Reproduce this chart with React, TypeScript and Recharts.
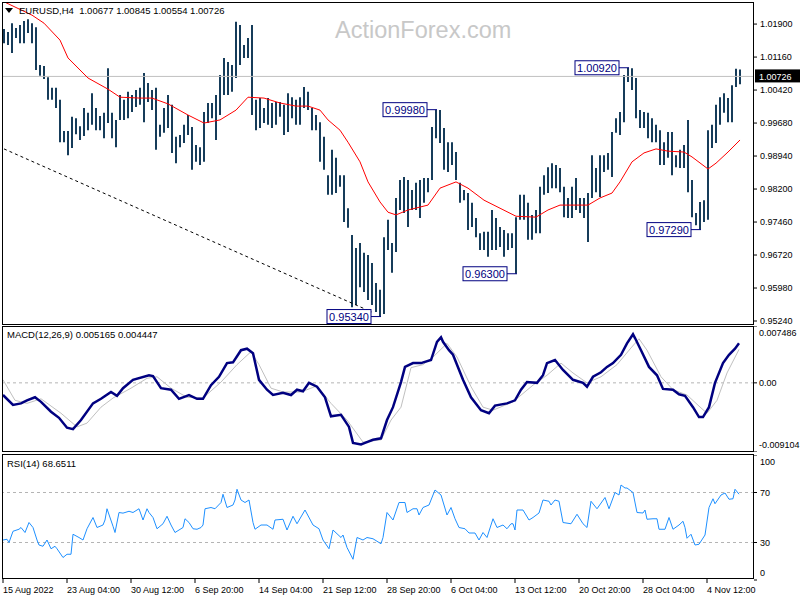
import {
  ComposedChart,
  LineChart,
  Bar,
  Line,
  XAxis,
  YAxis,
  ReferenceLine,
  ReferenceDot,
} from 'recharts';

/**
 * EURUSD H4 chart: price bars with a red moving average, MACD(12,26,9) and RSI(14)
 * in the MT4 look. Price bars are kept as high/low pairs, two H4 bars per entry.
 * The indicator series are [H4 bar index, value] pairs.
 */

const FONT = '"Liberation Sans", Arial, sans-serif';
const NAVY = '#000080';
const BAR_COLOR = '#163c5a';

const PRICE_DOMAIN = [0.95173, 1.02395];
const PRICE_TICKS = [1.019, 1.0116, 1.0042, 0.9968, 0.9894, 0.982, 0.9746, 0.9672, 0.9598, 0.9524];
const LAST_PRICE = 1.00726;

const BAR_HIGH = [
  1.0179, 1.0172, 1.0192, 1.0181, 1.0188, 1.0197, 1.0201, 1.0192, 1.0183, 1.0098,
  1.0096, 1.0071, 1.0047, 1.0047, 1.002, 0.995, 0.995, 0.9982, 0.9979, 0.9961,
  1.0002, 0.9991, 1.0035, 1.0002, 0.9984, 0.9991, 1.0091, 0.9991, 0.9975, 1.0031,
  1.002, 1.0038, 1.0031, 1.0042, 1.0047, 1.008, 1.0058, 1.0042, 1.0047, 0.9964,
  1.0002, 1.0031, 1.0009, 0.9937, 0.9941, 0.9964, 0.9986, 0.9959, 0.9919, 0.9914,
  0.9993, 1.0013, 1.0013, 1.0031, 1.0076, 1.0114, 1.0105, 1.0098, 1.0195, 1.0188,
  1.0143, 1.0159, 1.0188, 1.002, 1.0024, 1.0002, 1.0024, 1.0013, 1.0015, 1.0015,
  1.0009, 1.0035, 1.0026, 1.002, 1.0026, 1.0049, 1.0038, 1.0002, 0.9986, 0.997,
  0.9937, 0.9851, 0.9908, 0.989, 0.9851, 0.9851, 0.9777, 0.9717, 0.9688, 0.9699,
  0.9677, 0.9672, 0.9654, 0.9609, 0.9594, 0.9712, 0.9751, 0.9699, 0.98, 0.984,
  0.9847, 0.984, 0.9818, 0.9834, 0.984, 0.9845, 0.9845, 0.9959, 0.9998, 0.9997,
  0.9957, 0.9925, 0.9925, 0.9903, 0.9834, 0.9818, 0.9811, 0.9789, 0.9755, 0.9721,
  0.9724, 0.9724, 0.9773, 0.9755, 0.9735, 0.9728, 0.9721, 0.9721, 0.9757, 0.9807,
  0.9807, 0.9789, 0.9762, 0.9773, 0.9825, 0.9851, 0.9869, 0.9878, 0.9874, 0.9867,
  0.9825, 0.98, 0.9825, 0.9845, 0.98, 0.98, 0.9811, 0.9896, 0.9867, 0.9896,
  0.9896, 0.9901, 0.9948, 0.9979, 0.9993, 1.0076, 1.0092, 1.0091, 1.0069, 0.9997,
  0.9993, 0.9991, 0.9979, 0.9964, 0.9952, 0.9925, 0.9948, 0.9948, 0.9896, 0.9908,
  0.9919, 0.9975, 0.984, 0.9766, 0.9791, 0.9795, 0.9952, 0.9964, 1.0009, 1.0026,
  1.0035, 1.0024, 1.0053, 1.009, 1.0088,
];

const BAR_LOW = [
  1.0147, 1.0143, 1.0125, 1.0159, 1.0147, 1.0147, 1.017, 1.0147, 1.0087, 1.0074,
  1.0067, 1.002, 1.002, 1.0002, 0.9925, 0.9925, 0.9896, 0.9912, 0.9943, 0.993,
  0.9939, 0.9952, 0.9964, 0.9952, 0.9952, 0.9934, 0.9968, 0.9934, 0.9914, 0.9975,
  0.9975, 0.9979, 0.9993, 1.0004, 1.0009, 0.997, 1.0015, 0.9997, 0.9908, 0.9937,
  0.9946, 0.9957, 0.9901, 0.9878, 0.9914, 0.9923, 0.9941, 0.9863, 0.9881, 0.9874,
  0.9881, 0.9968, 0.9979, 0.993, 0.9986, 1.0031, 1.0031, 1.0038, 1.0069, 1.0098,
  1.0114, 1.0114, 0.9986, 0.9952, 0.9957, 0.9968, 0.9964, 0.9957, 0.9964, 0.9982,
  0.9941, 0.9948, 0.9979, 0.9964, 0.9964, 1.0002, 0.9997, 0.9952, 0.9952, 0.9881,
  0.9863, 0.9807, 0.9807, 0.9811, 0.9825, 0.9746, 0.9733, 0.9555, 0.956, 0.96,
  0.9589, 0.9571, 0.956, 0.9544, 0.9534, 0.954, 0.9683, 0.9632, 0.9679, 0.9773,
  0.9766, 0.9735, 0.9773, 0.9773, 0.9755, 0.9789, 0.9813, 0.984, 0.9934, 0.9923,
  0.9863, 0.9858, 0.9874, 0.984, 0.9789, 0.9795, 0.9728, 0.9735, 0.9712, 0.9683,
  0.9683, 0.9668, 0.9683, 0.9683, 0.969, 0.9668, 0.9683, 0.9688, 0.963, 0.9751,
  0.9751, 0.9706, 0.9706, 0.9721, 0.9721, 0.9807, 0.9811, 0.9822, 0.9822, 0.9813,
  0.9757, 0.9755, 0.9755, 0.9773, 0.9766, 0.9755, 0.9701, 0.98, 0.9813, 0.9802,
  0.9858, 0.9863, 0.9847, 0.9946, 0.9941, 0.997, 1.006, 1.0042, 0.9979, 0.9957,
  0.9957, 0.9934, 0.9925, 0.9925, 0.9874, 0.9874, 0.989, 0.9851, 0.9869, 0.9867,
  0.9867, 0.9813, 0.9757, 0.9739, 0.9729, 0.9746, 0.9751, 0.9912, 0.9923, 0.9964,
  0.9991, 0.997, 0.997, 1.0049, 1.0055,
];

// moving average, [bar pair index, value]
const MA_POINTS: [number, number][] = [
  [0, 1.024], [7, 1.021], [10, 1.0192], [14, 1.0154], [16, 1.0114], [21, 1.0069], [26, 1.0044],
  [29, 1.0026], [34, 1.0024], [37, 1.0024], [41, 1.0011], [46, 0.9986], [50, 0.9968], [54, 0.9975],
  [58, 0.9997], [61, 1.0026], [65, 1.0024], [69, 1.0013], [73, 1.0006], [76, 1.0006], [79, 0.9997],
  [81, 0.9975], [84, 0.9952], [86, 0.9925], [89, 0.9881], [91, 0.9836], [94, 0.9791], [96, 0.9768],
  [98, 0.9762], [101, 0.9773], [106, 0.9784], [109, 0.9822], [113, 0.9836], [116, 0.9822],
  [120, 0.9795], [124, 0.9777], [128, 0.9759], [133, 0.9757], [136, 0.9773], [139, 0.9784],
  [146, 0.9784], [149, 0.98], [152, 0.9811], [154, 0.9836], [157, 0.9881], [160, 0.9901],
  [163, 0.991], [166, 0.9905], [170, 0.9903], [172, 0.9892], [176, 0.9865], [178, 0.9878],
  [181, 0.9903], [184, 0.993],
];

// marked swing highs / lows, [bar pair index, price]
const SWINGS: [number, number][] = [
  [108, 0.9998], [156, 1.0092], [128, 0.963], [94, 0.9534], [174, 0.9729],
];

const TREND_FROM: [number, number] = [0, 0.991];
const TREND_TO: [number, number] = [92, 0.9544];

const MACD_RANGE = [-0.009104, 0.007486];
const MACD_TICKS = [0.007486, 0, -0.009104];

const MACD_LINE: [number, number][] = [
  [0, -0.0016], [5, -0.0029], [9, -0.0027], [12, -0.0023], [16, -0.0019], [19, -0.0025], [24, -0.0038],
  [28, -0.0046], [32, -0.0059], [35, -0.0061], [39, -0.0049], [45, -0.0027], [49, -0.0021], [54, -0.0012],
  [57, -0.0017], [60, -0.0007], [65, 0.0004], [73, 0.001], [75, 0.0009], [79, -0.0007], [84, -0.0009],
  [88, -0.0021], [93, -0.0016], [97, -0.0021], [100, -0.0021], [104, -0.0003], [108, 0.0008], [112, 0.0026],
  [115, 0.0027], [119, 0.0043], [122, 0.0045], [125, 0.0039], [128, 0.0004], [132, -0.0009], [135, -0.0016],
  [140, -0.0013], [144, -0.0016], [147, -0.0009], [150, -0.0011], [153, 0.0], [157, -0.0005], [161, -0.0019],
  [164, -0.0044], [169, -0.0042], [173, -0.0058], [175, -0.0079], [179, -0.0081], [181, -0.0079],
  [185, -0.0075], [189, -0.0073], [192, -0.0049], [195, -0.0032], [199, 0.0001], [201, 0.0021],
  [205, 0.0026], [209, 0.0026], [214, 0.003], [217, 0.0054], [219, 0.006], [220, 0.0054], [223, 0.0043],
  [225, 0.0037], [230, 0.0004], [234, -0.0019], [239, -0.0036], [243, -0.004], [246, -0.003], [252, -0.0027],
  [256, -0.0023], [259, -0.0009], [262, 0.0001], [267, 0.0], [270, 0.001], [272, 0.0026], [276, 0.003],
  [280, 0.0017], [285, 0.0004], [290, 0.0], [292, -0.0005], [295, 0.0008], [299, 0.0014], [302, 0.0021],
  [305, 0.0026], [309, 0.0037], [312, 0.0052], [315, 0.0064], [316, 0.0059], [319, 0.0043], [323, 0.0021],
  [327, 0.001], [330, -0.0008], [335, -0.0009], [338, -0.0015], [341, -0.0017], [345, -0.0032],
  [348, -0.0045], [350, -0.0045], [353, -0.0032], [356, 0.0], [360, 0.0026], [363, 0.0037], [366, 0.0045],
  [368, 0.0052],
];

const MACD_SIGNAL: [number, number][] = [
  [0, 0.0004], [6, -0.0023], [12, -0.0027], [19, -0.0021], [29, -0.004], [37, -0.0058], [42, -0.0053],
  [49, -0.0032], [55, -0.002], [64, -0.0007], [72, 0.0006], [77, 0.0008], [84, -0.0007], [92, -0.0019],
  [100, -0.002], [109, 0.0001], [117, 0.0024], [124, 0.0041], [128, 0.0024], [134, -0.0007], [140, -0.0012],
  [149, -0.0012], [157, -0.0004], [164, -0.0027], [172, -0.0049], [180, -0.0078], [189, -0.0075],
  [194, -0.0049], [199, -0.0032], [204, 0.002], [210, 0.0024], [215, 0.0034], [222, 0.0052], [227, 0.0034],
  [234, -0.0005], [240, -0.0032], [245, -0.0036], [255, -0.0025], [265, -0.0003], [272, 0.001],
  [279, 0.0026], [285, 0.0013], [292, 0.0], [299, 0.0008], [307, 0.0024], [314, 0.0046], [318, 0.0058],
  [322, 0.0043], [329, 0.0008], [335, -0.0009], [342, -0.0016], [349, -0.0033], [352, -0.004],
  [357, -0.0023], [362, 0.0013], [368, 0.0044],
];

const RSI_TICKS = [100, 70, 30, 0];
const RSI_LEVELS = [70, 30];

const RSI_LINE: [number, number][] = [
  [0, 32], [2, 32.6], [3, 30], [5, 39], [8, 40.6], [9, 42], [11, 38], [13, 46], [15, 42], [17, 32],
  [18, 28], [20, 27], [22, 32], [24, 25], [26, 27], [27, 25], [30, 18], [32, 20.6], [34, 20.6], [35, 36.6],
  [38, 34], [40, 32], [42, 41], [45, 50], [47, 42], [50, 44], [51, 48], [52, 57], [55, 43], [56, 38],
  [58, 54], [60, 53.5], [63, 55], [65, 54], [68, 57], [70, 48], [72, 57], [73, 54], [75, 50], [77, 41],
  [80, 45], [82, 51], [84, 44], [86, 38], [90, 42], [91, 49], [93, 46], [95, 41], [97, 40.6], [99, 42],
  [100, 44], [101, 57], [104, 58], [106, 57], [109, 62], [110, 68.6], [112, 58], [115, 60], [116, 64],
  [117, 72.6], [119, 64], [121, 62], [123, 64], [125, 46], [126, 40.6], [129, 44], [132, 44], [135, 40.6],
  [136, 48], [140, 48.6], [142, 40], [145, 51], [147, 45], [151, 56], [155, 44], [158, 41], [160, 32],
  [163, 25], [165, 40], [169, 34], [170, 36], [172, 26], [175, 16.6], [177, 34], [180, 32], [182, 34],
  [185, 33], [189, 29], [190, 34], [192, 54], [195, 48], [198, 62], [201, 62], [202, 54], [205, 57],
  [207, 57], [208, 52], [210, 58], [213, 60], [216, 72], [219, 68], [222, 52], [224, 58], [226, 49],
  [228, 42], [231, 41], [233, 37.6], [236, 37.6], [238, 32], [240, 38], [242, 34], [245, 49], [247, 42],
  [250, 44], [252, 41], [254, 45], [255, 45], [256, 40], [257, 56], [260, 56], [263, 48], [265, 50],
  [268, 53.6], [270, 64], [273, 63], [274, 60], [276, 64], [278, 63], [280, 46], [284, 45], [287, 52.6],
  [290, 45], [292, 42], [294, 63], [297, 57], [301, 66], [303, 57], [306, 70], [308, 68], [309, 76],
  [311, 73.6], [312, 73.6], [315, 70], [317, 54], [320, 53.6], [321, 56], [322, 48.6], [325, 49],
  [327, 49], [328, 40.6], [331, 40.6], [333, 50], [335, 40.6], [338, 44], [340, 47], [341, 42],
  [342, 33.4], [344, 36.6], [346, 28], [348, 28.6], [351, 36], [353, 58], [355, 65], [356, 61],
  [359, 68], [361, 69.6], [363, 64.6], [365, 65], [366, 72.6], [368, 68.65],
];

const TIME_TICKS = [0, 32, 64, 96, 128, 160, 192, 224, 256, 288, 320, 352];
const TIME_LABELS = [
  '15 Aug 2022', '23 Aug 04:00', '30 Aug 12:00', '6 Sep 20:00', '14 Sep 04:00', '21 Sep 12:00',
  '28 Sep 20:00', '6 Oct 04:00', '13 Oct 12:00', '20 Oct 20:00', '28 Oct 04:00', '4 Nov 12:00',
];

const BAR_DOMAIN = [-0.5, 375.5];

const maByBar = new Map(MA_POINTS);
const priceRows = BAR_HIGH.map((high, i) => ({
  i,
  hl: [BAR_LOW[i], high],
  ma: maByBar.has(i) ? maByBar.get(i) : null,
}));

function mergeRows(series: Record<string, [number, number][]>) {
  const rows = new Map<number, any>();
  for (const [key, pts] of Object.entries(series)) {
    for (const [b, v] of pts) {
      const row = rows.get(b) ?? { b };
      row[key] = v;
      rows.set(b, row);
    }
  }
  return [...rows.values()].sort((a, b) => a.b - b.b);
}

const macdRows = mergeRows({ macd: MACD_LINE, signal: MACD_SIGNAL });
const rsiRows = mergeRows({ rsi: RSI_LINE });

const axisText = { fontSize: 9, fill: '#000', fontFamily: FONT };

function SwingTag(props: any) {
  const { cx, cy, text } = props;
  const w = 44;
  const h = 14;
  const right = cx - 9;
  return (
    <g>
      <line x1={right} x2={cx + 1} y1={cy} y2={cy} stroke={NAVY} />
      <rect x={right - w} y={cy - h / 2} width={w} height={h} fill="#fff" stroke={NAVY} />
      <text x={right - w / 2} y={cy} dy="0.36em" textAnchor="middle" fontSize={11} fill={NAVY} fontFamily={FONT}>
        {text}
      </text>
    </g>
  );
}

function PriceTag(props: any) {
  const { viewBox } = props;
  const x = viewBox.x + viewBox.width;
  return (
    <g>
      <rect x={x + 1} y={viewBox.y - 7} width={45} height={13} fill="#000" />
      <text x={x + 5} y={viewBox.y} dy="0.36em" fontSize={9} fill="#fff" fontFamily={FONT}>
        {LAST_PRICE.toFixed(5)}
      </text>
    </g>
  );
}

function EdgeTick(props: any) {
  const { x, y, payload, top, bottom, format } = props;
  const v = payload.value;
  const dy = v === top ? 7 : v === bottom ? -7 : 0;
  return (
    <text x={x} y={y + dy} dy="0.36em" textAnchor="start" {...axisText}>
      {format(v)}
    </text>
  );
}

function TimeTick(props: any) {
  const { x, y, payload } = props;
  const label = TIME_LABELS[TIME_TICKS.indexOf(payload.value)];
  return (
    <g>
      <line x1={x} x2={x} y1={y - 2} y2={y + 3} stroke="#000" />
      <text x={x} y={y + 13} textAnchor="start" {...axisText}>
        {label}
      </text>
    </g>
  );
}

function PriceChart() {
  return (
    <ComposedChart width={800} height={326} data={priceRows} margin={{ top: 2, right: 0, bottom: 2, left: 2 }}>
      <XAxis dataKey="i" hide padding={{ left: 0, right: 12 }} />
      <YAxis
        orientation="right"
        width={46}
        domain={PRICE_DOMAIN}
        ticks={PRICE_TICKS}
        interval={0}
        allowDataOverflow
        axisLine={false}
        tickSize={3}
        tickMargin={3}
        tickLine={{ stroke: '#000' }}
        tick={axisText}
        tickFormatter={(v: number) => v.toFixed(5)}
      />
      <ReferenceLine y={LAST_PRICE} stroke="#c0c0c0" label={(p: any) => <PriceTag {...p} />} />
      <ReferenceLine
        segment={[
          { x: TREND_FROM[0], y: TREND_FROM[1] },
          { x: TREND_TO[0], y: TREND_TO[1] },
        ]}
        stroke="#000"
        strokeDasharray="3 3"
      />
      <Bar dataKey="hl" barSize={2} fill={BAR_COLOR} isAnimationActive={false} />
      <Line dataKey="ma" stroke="#ff0000" strokeWidth={1} dot={false} connectNulls isAnimationActive={false} />
      {SWINGS.map(([bar, price]) => (
        <ReferenceDot
          key={bar}
          x={bar}
          y={price}
          r={1}
          shape={(p: any) => <SwingTag cx={p.cx} cy={p.cy} text={price.toFixed(5)} />}
        />
      ))}
    </ComposedChart>
  );
}

function MacdChart() {
  return (
    <LineChart width={800} height={126} data={macdRows} margin={{ top: 0, right: 0, bottom: 0, left: 2 }}>
      <XAxis dataKey="b" type="number" domain={BAR_DOMAIN} hide allowDataOverflow />
      <YAxis
        orientation="right"
        width={46}
        domain={MACD_RANGE}
        ticks={MACD_TICKS}
        interval={0}
        allowDataOverflow
        axisLine={false}
        tickSize={3}
        tickMargin={2}
        tickLine={{ stroke: '#000' }}
        tick={(p: any) => (
          <EdgeTick
            {...p}
            top={MACD_RANGE[1]}
            bottom={MACD_RANGE[0]}
            format={(v: number) => (v === 0 ? '0.00' : v.toFixed(6))}
          />
        )}
      />
      <ReferenceLine y={0} stroke="#b4b4b4" strokeDasharray="3 3" />
      <Line dataKey="signal" stroke="#c0c0c0" strokeWidth={1} dot={false} connectNulls isAnimationActive={false} />
      <Line dataKey="macd" stroke={NAVY} strokeWidth={2.5} dot={false} connectNulls isAnimationActive={false} />
    </LineChart>
  );
}

function RsiChart() {
  return (
    <LineChart width={800} height={145} data={rsiRows} margin={{ top: 0, right: 0, bottom: 0, left: 2 }}>
      <XAxis
        dataKey="b"
        type="number"
        domain={BAR_DOMAIN}
        allowDataOverflow
        ticks={TIME_TICKS}
        interval={0}
        height={20}
        axisLine={false}
        tickLine={false}
        tickSize={0}
        tickMargin={0}
        tick={(p: any) => <TimeTick {...p} />}
      />
      <YAxis
        orientation="right"
        width={46}
        domain={[0, 100]}
        ticks={RSI_TICKS}
        interval={0}
        allowDataOverflow
        axisLine={false}
        tickSize={3}
        tickMargin={3}
        tickLine={{ stroke: '#000' }}
        tick={(p: any) => <EdgeTick {...p} top={100} bottom={0} format={(v: number) => String(v)} />}
      />
      {RSI_LEVELS.map((lvl) => (
        <ReferenceLine key={lvl} y={lvl} stroke="#b4b4b4" strokeDasharray="3 3" />
      ))}
      <Line dataKey="rsi" stroke="#1e90ff" strokeWidth={1} dot={false} connectNulls isAnimationActive={false} />
    </LineChart>
  );
}

const frame = (top: number, height: number) => ({
  position: 'absolute' as const,
  left: 2,
  top,
  width: 752,
  height,
  border: '1px solid #000',
  boxSizing: 'border-box' as const,
  pointerEvents: 'none' as const,
});

const caption = (left: number, top: number) => ({
  position: 'absolute' as const,
  left,
  top,
  fontSize: 9.5,
  lineHeight: '12px',
  fontFamily: FONT,
  color: '#000',
  whiteSpace: 'nowrap' as const,
});

export default function App() {
  return (
    <div style={{ position: 'absolute', left: 0, top: 0, width: 800, height: 600, background: '#fff', overflow: 'hidden' }}>
      <div
        style={{
          position: 'absolute',
          left: 335,
          top: 16,
          fontSize: 23.5,
          lineHeight: '28px',
          fontFamily: FONT,
          color: '#c8c8c8',
        }}
      >
        ActionForex.com
      </div>
      <div style={{ position: 'absolute', left: 0, top: 0 }}>
        <PriceChart />
      </div>
      <div style={{ position: 'absolute', left: 0, top: 326 }}>
        <MacdChart />
      </div>
      <div style={{ position: 'absolute', left: 0, top: 455 }}>
        <RsiChart />
      </div>
      <div style={frame(2, 323)} />
      <div style={frame(326, 126)} />
      <div style={frame(454, 125)} />
      <svg style={{ position: 'absolute', left: 5, top: 8 }} width={9} height={6}>
        <polygon points="0,0 8,0 4,5" fill="#000" />
      </svg>
      <div style={caption(19, 5)}>EURUSD,H4&nbsp;&nbsp;1.00677 1.00845 1.00554 1.00726</div>
      <div style={caption(7, 329)}>MACD(12,26,9) 0.005165 0.004447</div>
      <div style={caption(7, 458)}>RSI(14) 68.6511</div>
    </div>
  );
}
